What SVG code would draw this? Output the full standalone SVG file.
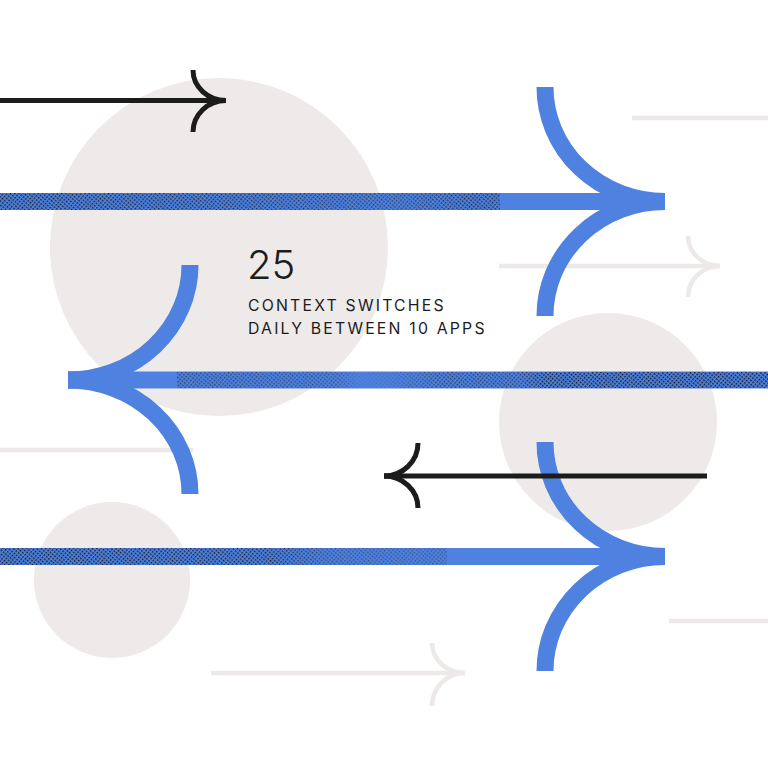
<svg xmlns="http://www.w3.org/2000/svg" width="768" height="768" viewBox="0 0 768 768">
<style>
.circ{fill:#edeae9}
.blue{fill:none;stroke:#4f82e0;stroke-width:17;stroke-linecap:butt}
.blk{fill:none;stroke:#1c1c1c;stroke-width:5;stroke-linecap:butt}
.gry{fill:none;stroke:#ece9e8;stroke-width:4.5;stroke-linecap:butt}
.big{font-family:Inter,"Liberation Sans",sans-serif;font-weight:300;font-size:40px;fill:#1c1c1c}
.lbl{font-family:Inter,"Liberation Sans",sans-serif;font-weight:400;font-size:15.8px;letter-spacing:2.2px;fill:#1c1c1c}
</style>
<defs>
<pattern id="ht" width="3" height="3" patternUnits="userSpaceOnUse" patternTransform="rotate(40)">
<rect width="1.5" height="1.5" fill="#0d0d0d"/>
</pattern>
<linearGradient id="g1" x1="0" y1="0" x2="500" y2="0" gradientUnits="userSpaceOnUse">
<stop offset="0" stop-color="#fff" stop-opacity="0.9"/>
<stop offset="0.5" stop-color="#fff" stop-opacity="0.75"/>
<stop offset="0.8" stop-color="#fff" stop-opacity="0.55"/>
<stop offset="0.95" stop-color="#fff" stop-opacity="0.8"/>
<stop offset="1" stop-color="#fff" stop-opacity="0.7"/>
</linearGradient>
<linearGradient id="g2" x1="177" y1="0" x2="768" y2="0" gradientUnits="userSpaceOnUse">
<stop offset="0" stop-color="#fff" stop-opacity="0.55"/>
<stop offset="0.27" stop-color="#fff" stop-opacity="0.45"/>
<stop offset="0.31" stop-color="#fff" stop-opacity="0.1"/>
<stop offset="0.36" stop-color="#fff" stop-opacity="0.2"/>
<stop offset="0.45" stop-color="#fff" stop-opacity="0.6"/>
<stop offset="0.58" stop-color="#fff" stop-opacity="0.6"/>
<stop offset="0.62" stop-color="#fff" stop-opacity="0.95"/>
<stop offset="1" stop-color="#fff" stop-opacity="0.95"/>
</linearGradient>
<linearGradient id="g3" x1="0" y1="0" x2="447" y2="0" gradientUnits="userSpaceOnUse">
<stop offset="0" stop-color="#fff" stop-opacity="0.95"/>
<stop offset="0.6" stop-color="#fff" stop-opacity="0.85"/>
<stop offset="0.75" stop-color="#fff" stop-opacity="0.45"/>
<stop offset="1" stop-color="#fff" stop-opacity="0.35"/>
</linearGradient>
<mask id="m1"><rect x="0" y="192" width="500" height="18" fill="url(#g1)"/></mask>
<mask id="m2"><rect x="177" y="371" width="591" height="18" fill="url(#g2)"/></mask>
<mask id="m3"><rect x="0" y="547" width="447" height="19" fill="url(#g3)"/></mask>
</defs>
<rect width="768" height="768" fill="#fff"/>

<g id="circles">
<circle class="circ" cx="219" cy="247" r="169"/>
<circle class="circ" cx="608" cy="422" r="109"/>
<circle class="circ" cx="112" cy="580" r="78"/>
</g>

<g id="grey-lines">
<path class="gry" d="M632,118 H768" stroke-width="5"/>
<path class="gry" d="M0,450 H193" stroke-width="5"/>
<path class="gry" d="M669,621 H768" stroke-width="5"/>
</g>

<g id="grey-arrow-1">
<path class="gry" d="M499,266 H720"/>
<path class="gry" d="M688,236 A32,30 0 0 0 720,266"/>
<path class="gry" d="M688,297 A32,31 0 0 1 720,266"/>
</g>

<g id="grey-arrow-2">
<path class="gry" d="M211,673 H465"/>
<path class="gry" d="M432,643 A33,30 0 0 0 465,673"/>
<path class="gry" d="M432,706 A33,33 0 0 1 465,673"/>
</g>

<g id="blue-arrow-1">
<path class="blue" d="M0,201.5 H665"/>
<path class="blue" d="M545,87 A120,114.5 0 0 0 665,201.5"/>
<path class="blue" d="M545,316 A120,114.5 0 0 1 665,201.5"/>
<rect x="0" y="193" width="500" height="17" fill="url(#ht)" mask="url(#m1)"/>
</g>

<g id="blue-arrow-2">
<path class="blue" d="M68,380 H768"/>
<path class="blue" d="M190,265 A122,115 0 0 1 68,380"/>
<path class="blue" d="M190,494 A122,114 0 0 0 68,380"/>
<rect x="177" y="372" width="591" height="16" fill="url(#ht)" mask="url(#m2)"/>
</g>

<g id="blue-arrow-3">
<path class="blue" d="M0,556.5 H665"/>
<path class="blue" d="M545,442 A120,114.5 0 0 0 665,556.5"/>
<path class="blue" d="M545,671 A120,114.5 0 0 1 665,556.5"/>
<rect x="0" y="548" width="447" height="17" fill="url(#ht)" mask="url(#m3)"/>
</g>

<g id="black-arrow-1">
<path class="blk" d="M0,100.5 H226"/>
<path class="blk" d="M193,70 A33,30.5 0 0 0 226,100.5"/>
<path class="blk" d="M193,132 A33,31.5 0 0 1 226,100.5"/>
</g>

<g id="black-arrow-2">
<path class="blk" d="M384,476 H707"/>
<path class="blk" d="M418,443 A34,33 0 0 1 384,476"/>
<path class="blk" d="M418,508 A34,32 0 0 0 384,476"/>
</g>

<g id="label">
<text class="big" x="247" y="279">25</text>
<text class="lbl" x="248" y="311">CONTEXT SWITCHES</text>
<text class="lbl" x="248" y="334">DAILY BETWEEN 10 APPS</text>
</g>
</svg>
